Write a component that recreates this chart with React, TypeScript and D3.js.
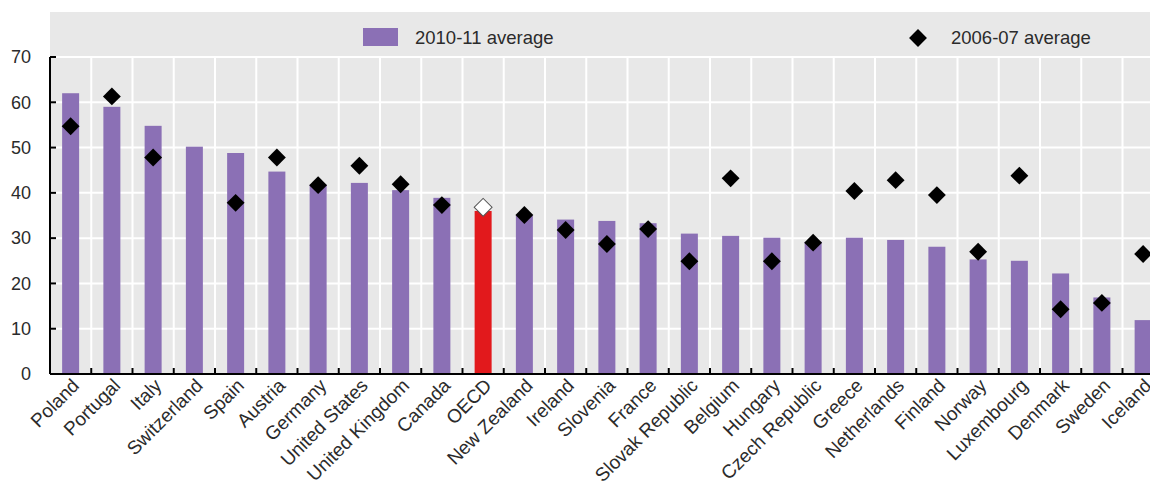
import React, { useEffect, useRef } from 'react';
import * as d3 from 'd3';

const countries = [
  'Poland', 'Portugal', 'Italy', 'Switzerland', 'Spain', 'Austria', 'Germany',
  'United States', 'United Kingdom', 'Canada', 'OECD', 'New Zealand', 'Ireland',
  'Slovenia', 'France', 'Slovak Republic', 'Belgium', 'Hungary', 'Czech Republic',
  'Greece', 'Netherlands', 'Finland', 'Norway', 'Luxembourg', 'Denmark', 'Sweden', 'Iceland',
];

// 2010-11 average (bars)
const avg2010 = [
  62.0, 59.0, 54.8, 50.2, 48.8, 44.7, 41.8, 42.2, 40.6, 38.9, 36.0, 35.0, 34.1,
  33.8, 33.3, 31.0, 30.5, 30.1, 29.2, 30.1, 29.6, 28.1, 25.3, 25.0, 22.2, 16.9, 11.9,
];

// 2006-07 average (diamonds), null where missing
const avg2006: (number | null)[] = [
  54.7, 61.3, 47.8, null, 37.8, 47.8, 41.7, 46.0, 41.9, 37.3, 36.8, 35.1, 31.8,
  28.7, 32.0, 24.9, 43.2, 24.9, 29.0, 40.4, 42.8, 39.5, 27.0, 43.8, 14.3, 15.7, 26.5,
];

const yTicks = [0, 10, 20, 30, 40, 50, 60, 70];

const W = 1150;
const H = 481;

const App: React.FC = () => {
  const svgRef = useRef<SVGSVGElement>(null);

  useEffect(() => {
    if (!svgRef.current) return;
    const svg = d3.select(svgRef.current);
    svg.selectAll('*').remove();

    const left = 50;
    const step = 41.25;
    const top = 12;
    const bottom = 374;

    const x = d3.scaleBand<string>()
      .domain(countries)
      .range([left, left + step * countries.length])
      .padding(0);

    const y = d3.scaleLinear().domain([0, 70]).range([bottom, 57]);

    const barW = 17;
    const font = 'Arial, "Liberation Sans", sans-serif';
    const textColor = '#2b2b2b';

    // Background
    svg.append('rect')
      .attr('x', left)
      .attr('y', top)
      .attr('width', W - left)
      .attr('height', bottom - top)
      .attr('fill', '#e8e8e8');

    // Horizontal grid
    svg.append('g')
      .selectAll('line')
      .data(yTicks)
      .enter()
      .append('line')
      .attr('x1', left)
      .attr('x2', W)
      .attr('y1', d => y(d))
      .attr('y2', d => y(d))
      .attr('stroke', '#fff')
      .attr('stroke-width', 2);

    // Vertical grid at category boundaries
    const boundaries = countries.slice(1).map(c => x(c) as number);
    svg.append('g')
      .selectAll('line')
      .data(boundaries)
      .enter()
      .append('line')
      .attr('x1', d => d)
      .attr('x2', d => d)
      .attr('y1', y(70))
      .attr('y2', y(0))
      .attr('stroke', '#fff')
      .attr('stroke-width', 2);

    // Bars
    svg.append('g')
      .selectAll('rect')
      .data(countries)
      .enter()
      .append('rect')
      .attr('x', d => (x(d) as number) + x.bandwidth() / 2 - barW / 2)
      .attr('width', barW)
      .attr('y', (_, i) => y(avg2010[i]))
      .attr('height', (_, i) => y(0) - y(avg2010[i]))
      .attr('fill', d => (d === 'OECD' ? '#e2191c' : '#8b70b5'));

    // Diamonds
    const diamond = d3.symbol().type(d3.symbolSquare).size(160);
    svg.append('g')
      .selectAll('path')
      .data(countries.map((c, i) => ({ c, v: avg2006[i] })).filter(d => d.v !== null))
      .enter()
      .append('path')
      .attr('d', diamond)
      .attr('transform', d =>
        `translate(${(x(d.c) as number) + x.bandwidth() / 2},${y(d.v as number)}) rotate(45)`)
      .attr('fill', d => (d.c === 'OECD' ? '#fff' : '#000'))
      .attr('stroke', d => (d.c === 'OECD' ? '#555' : 'none'))
      .attr('stroke-width', 1);

    // Y axis
    svg.append('line')
      .attr('x1', left).attr('x2', left)
      .attr('y1', y(70)).attr('y2', y(0))
      .attr('stroke', '#000').attr('stroke-width', 2);

    svg.append('g')
      .selectAll('line')
      .data(yTicks)
      .enter()
      .append('line')
      .attr('x1', left).attr('x2', left + 6)
      .attr('y1', d => y(d)).attr('y2', d => y(d))
      .attr('stroke', '#000').attr('stroke-width', 2);

    svg.append('g')
      .selectAll('text')
      .data(yTicks)
      .enter()
      .append('text')
      .attr('x', 31)
      .attr('y', d => y(d))
      .attr('dy', '0.35em')
      .attr('text-anchor', 'end')
      .style('font-family', font)
      .style('font-size', '18px')
      .attr('fill', textColor)
      .text(d => d);

    // X axis
    svg.append('line')
      .attr('x1', left).attr('x2', W)
      .attr('y1', y(0)).attr('y2', y(0))
      .attr('stroke', '#000').attr('stroke-width', 2);

    svg.append('g')
      .selectAll('line')
      .data(boundaries)
      .enter()
      .append('line')
      .attr('x1', d => d).attr('x2', d => d)
      .attr('y1', y(0)).attr('y2', y(0) - 6)
      .attr('stroke', '#000').attr('stroke-width', 2);

    svg.append('g')
      .selectAll('text')
      .data(countries)
      .enter()
      .append('text')
      .attr('transform', d =>
        `translate(${(x(d) as number) + x.bandwidth() / 2 + 5},${y(0) + 8}) rotate(-45)`)
      .attr('text-anchor', 'end')
      .attr('dy', '0.35em')
      .style('font-family', font)
      .style('font-size', '19px')
      .attr('fill', textColor)
      .text(d => d);

    // Legend
    svg.append('rect')
      .attr('x', 363).attr('y', 28)
      .attr('width', 35).attr('height', 18)
      .attr('fill', '#8b70b5');
    svg.append('text')
      .attr('x', 415).attr('y', 44)
      .style('font-family', font)
      .style('font-size', '18.5px')
      .attr('fill', textColor)
      .text('2010-11 average');

    svg.append('path')
      .attr('d', diamond)
      .attr('transform', 'translate(918,38) rotate(45)')
      .attr('fill', '#000');
    svg.append('text')
      .attr('x', 951).attr('y', 44)
      .style('font-family', font)
      .style('font-size', '18.5px')
      .attr('fill', textColor)
      .text('2006-07 average');
  }, []);

  return (
    <svg
      ref={svgRef}
      width={W}
      height={H}
      style={{ position: 'absolute', left: 0, top: 0, background: '#fff' }}
    />
  );
};

export default App;
